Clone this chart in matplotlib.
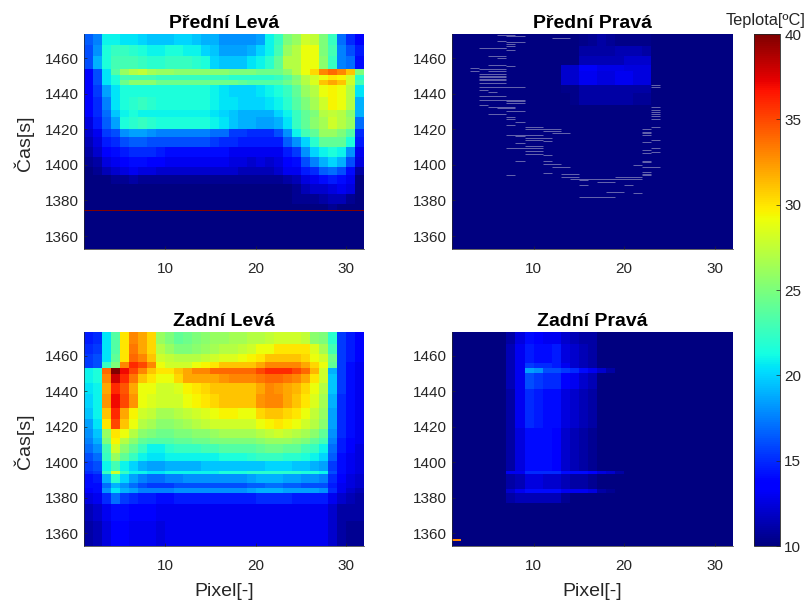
import numpy as np
import matplotlib
matplotlib.use("Agg")
import matplotlib.pyplot as plt

plt.rcParams['font.family'] = ['Liberation Sans', 'DejaVu Sans']

W, H = 808, 600
TITLES = ["Přední Levá", "Přední Pravá", "Zadní Levá", "Zadní Pravá"]
XTICKS = [10, 20, 30]
YTICKS = [1360, 1380, 1400, 1420, 1440, 1460]
CB_TICKS = [10, 15, 20, 25, 30, 35, 40]
PIXEL_EDGES = np.arange(1, 33)

# ---- Přední Levá
PL_T = [1473.5, 1467.5, 1460.9, 1453.7, 1450.5, 1447.7, 1444.9, 1438.3, 1430.8, 1426.6, 1420.4,
        1415.7, 1410.0, 1404.4, 1398.7, 1394.0, 1389.3, 1383.7, 1378.0, 1374.6, 1374.1, 1352.7]
PL = [
 [16.5,17.5,21,21,20.5,20.5,20,19.5,19.5,19.5,20,20,19.5,19,19,18,18,18,18,18.5,21,22.5,25,26,28,27.5,25,22.5,17,15,13.5],
 [16,18,21.5,22.5,22.5,22,21.5,21,21,21.5,21.5,21,21,20,19.5,18.5,18.5,18.5,19,20,21,23,26,27,29,29,25,23,17.5,16,14.5],
 [16,19,21.5,23,23,23,22.5,22,22,22.5,22.5,22.5,22,21.5,20,19.5,19.5,19.5,20.5,21,22,24,27,27,29,29,25.5,22.5,17.5,17,14],
 [13.5,16,20.5,23.5,26,27,27.5,26.5,26,26,25.5,25.5,25.5,25.5,25.5,25.5,25,25,25,24.5,24.5,24.5,25.5,27,29,30.5,33,34,33,31,25],
 [13.5,16,20.5,21.5,23,23,23,23,22.5,22.5,22.5,22.5,22.5,22.5,22.5,22.5,22,22,22,22,22,22.5,23.5,25,27,28,29,30,29.5,28,22],
 [13.5,16,20.5,21.5,24.5,25.5,25.5,25.5,24.5,24.5,24.5,24.5,24.5,24.5,24.5,24.5,24.5,24,23.5,23.5,23.5,23.5,24.5,25.5,27,28.5,31,32,31,28,23],
 [13.5,15.5,18.5,20.5,21.5,21.5,21.5,21.5,21.5,21.5,21.5,21.5,21.5,21.5,21,20.5,20,20,20,20.5,21,21.5,22.5,24,26,27,29,29.5,29,27,20.5],
 [13.5,15,17.5,20.5,21.5,22,22.5,22,21.5,21.5,21.5,21.5,21.5,21.5,21,20.5,20.5,20,20,20,20.5,21,22,23.5,25,26.5,28,29.5,29,27,19],
 [13.5,15,17,19.5,21,21.5,21,21,21,21,21,21,21,21,20.5,20,19.5,19,19,19,19,20,21,22.5,24,25,27,27.5,27,25.5,19],
 [12.5,14.5,16.5,18.5,21.5,22,22.5,22,21.5,21.5,21.5,21.5,21.5,21.5,21,20.5,19.5,19,19,18.5,18.5,19,20.5,22.5,24,25.5,26.5,28,27,26,17],
 [12,13,15.5,16,18,18.5,18.5,18,17.5,17.5,17.5,17.5,17.5,17.5,17,17,15.5,15.5,15,15,15,16,18,21,23,24,26,26,25,23.5,15],
 [11.5,12.5,14.5,15,16,16.5,16.5,16,16,16,16,16,16,16,15.5,15,15,14.5,14.5,14.5,14.5,14.5,16.5,18,20,22,24,24,24,21.5,14.5],
 [11,12,13.5,14,14.5,15,15,15,14.5,14,14,14,14,14,14,14,13,13,13,13,13,13,14.5,15.5,18,20,21,21.5,21,18,13],
 [10.5,11,12.5,13,13.5,14,14,13.5,13.5,13,13,13,13,13,13,13,12.5,12.5,12,12.5,12,12.5,13.5,14,16,17.5,19,20,19,16,12.5],
 [10,10.5,11.5,12,12.5,13,12.5,12.5,12,12,12,12,12,12,12,12,12,11.5,11.5,11.5,11.5,12,13,13,14.5,15,16.5,17,16,14,11],
 [10,10,10,10.5,10.5,11,10.5,10.5,10.5,10.5,10.5,10.5,10.5,10.5,10.5,10.5,10.5,10.5,10.5,10.5,10.5,10.5,11,11.5,12.5,13,14,14.5,14,13,10],
 [10,10,10,10,10,10,10,10,10,10,10,10,10,10,10,10,10,10,10,10,10,10,10,10.5,11.5,12,12,12.5,13,12.5,10],
 [10,10,10,10,10,10,10,10,10,10,10,10,10,10,10,10,10,10,10,10,10,10,10,10.5,10.5,10.5,11,11.5,11.5,10.5,10],
 [10,10,10,10,10,10,10,10,10,10,10,10,10,10,10,10,10,10,10,10,10,10,10,10,10,10,10,10.5,10,10,10],
 [40,40,40,40,40,40,40,40,40,40,40,40,40,40,40,40,40,40,40,40,40,40,40,40,40,40,40,40,40,40,40],
 [10,10,10,10,10,10,10,10,10,10,10,10,10,10,10,10,10,10,10,10,10,10,10,10,10,10,10,10,10,10,10],
]

# ---- Zadní Levá
ZL_T = [1473.5, 1466.5, 1460.9, 1456.7, 1453.3, 1449.6, 1444.9, 1438.3, 1430.8, 1424.2, 1418.5, 1413.8,
        1410.0, 1405.3, 1400.6, 1395.3, 1393.4, 1388.4, 1385.2, 1382.4, 1376.2, 1366.8, 1352.7]
ZL = [
 [14.5,15,20.5,23.5,30,33,32,30.5,26,25,24,24.5,25,25.5,26,26,26.5,26.5,27,27,27.5,28,28,28,27.5,25.5,25,22,15.5,14.5,13.5],
 [15,15.5,20.5,23.5,30,33.5,32,30.5,27,26,25,25,25.5,26,26.5,27,27,27.5,28,29,29,30,30,30,30,28.5,26.5,23,15.5,14.5,13.5],
 [15.5,16,20.5,24,30,34,33,31,28,27.5,27,27,27,27.5,28,28.5,28.5,29,29.5,30,31,31,31,31,30.5,29,28,24.5,15.5,14.5,13.5],
 [15.5,16,22.5,25,33,36,35,33,29,28,28,28,29,29.5,30,31,31,31,31,32,33,33,33,33,32,30.5,29,24,15.5,14,13],
 [21,21.5,34,40,37,35,33,31,30,30,31,32,33,33,34,34,34,34,34,35,36,36,36,35,34,31.5,28,19,15.5,14,13],
 [21,21.5,33,38,36,33.5,31,30,29,29,30.5,32,32,32,32,32.5,33,33,33,33.5,34,34,33.5,33,32,30,28,19.5,15.5,14,13],
 [20.5,21,32,36,34.5,32,29,29,28,28,28.5,29.5,30,30.5,31,31,31,31,31,32,33,32.5,32,31.5,30.5,29,27,19.5,15.5,14,13],
 [20,21,32.5,37,35,32.5,29,28.5,28,28,28,29,29.5,30,30.5,31,31,31,31,32.5,33,33,32,31,30,28.5,26.5,19,15,14,13],
 [19.5,21,31,36,32,29.5,28,27.5,26.5,26.5,27,27.5,28,28.5,29,29.5,29.5,29,29,30.5,31,31,30.5,30,29,27.5,26,18.5,15,14,13],
 [18.5,20.5,30,35,31,29,27,26.5,25.5,25.5,26,26.5,27,27.5,28,28,28,28,28,29,29.5,30,29.5,29,28,27,25.5,18.5,15,14,13],
 [18,19.5,26,30,29,27,25.5,25,24.5,24.5,25,25,25.5,25.5,26,26.5,26.5,26.5,26.5,27,27.5,28,27.5,27,26.5,25.5,24,18,15,14,13],
 [17.5,19,25,29.5,27,25.5,24,23.5,23.5,23.5,24,24,24.5,24.5,25,25,25,25,25,25.5,26,26,26,25.5,25,24,23,17.5,14.5,13.5,13],
 [17,18,23,28,25.5,24,22.5,21,21,22,22.5,22.5,22.5,23,23,23.5,23.5,23.5,23.5,24,24.5,24.5,24,24,23,22.5,21,17,14.5,13.5,12.5],
 [16,17,22.5,26,24,22.5,21,20.5,20.5,21,21,21,21,21,21,21.5,21.5,21.5,22,22.5,22.5,22.5,22,22,21.5,21,20,16.5,14,13,12.5],
 [15.5,16,21,23,21,20,19,18.5,18.5,19,19,19,19,19.5,19.5,19.5,19.5,19.5,19.5,19.5,20,20,20,19.5,19.5,19,18.5,15.5,14,13,12.5],
 [15,15.5,22.5,28,22.5,21,21,20.5,20.5,21,21,21,21,21,21,21.5,21.5,21.5,22,22,22,22,22,22,21.5,21.5,21,16,14,13,12.5],
 [14,14.5,19,22,20,18.5,17.5,17,17,17.5,17.5,18,18,18,18,18,18,18,18.5,19,19,19,18.5,18.5,18,18,17.5,15,13.5,12.5,12],
 [14,14,17,19,18,17,16,15.5,15.5,15.5,16,16,16,16,16,16,16,16,16.5,16.5,17,17,16.5,16.5,16,16,16,14.5,13,12.5,12],
 [13.5,14,18,20.5,19,18.5,17.5,17.5,17.5,17.5,18,18,18,18,18,18,18,18,18.5,19,19,19,18.5,18.5,18.5,18.5,18,15,13,12,11.5],
 [12.5,13,15,17,15.5,15,14.5,14.5,14,14,14.5,14.5,14.5,14.5,14.5,14.5,14.5,14.5,14.5,15,15,15,15,14.5,14.5,14.5,14.5,13,12,11.5,11],
 [11.5,12,13,14,14,13.5,13.5,13.5,13,13,13,13,13,13,13,13,13,13,13,13,13,13,13,13,13,13,13,12,11,11,11],
 [11,11.5,12.5,13.5,13.5,13,13,13,12.5,13,13,13,13,13,13,13,13,13,13,13,13,13,13,13,13,13,13,12,11,10.5,10.5],
]

# ---- Přední Pravá
PP_T = [1473.5, 1466.5, 1460.9, 1456.2, 1452.5, 1444.9, 1440.2, 1433.6, 1352.7]
PP = [
 [10,10,10,10,10,10,10,10,10,10,10,10,10,10,10.3,10.5,11,10.7,10.3,10.3,10.3,10.3,10,10,10,10,10,10,10,10,10],
 [10,10,10,10,10,10,10,10,10,10,10,10,10,10,11,11,11,11,11.3,11.3,11.3,11,10,10,10,10,10,10,10,10,10],
 [10,10,10,10,10,10,10,10,10,10,10,10,10,10,11.5,11.5,11.5,11.5,11.5,12,12,12,10,10,10,10,10,10,10,10,10],
 [10,10,10,10,10,10,10,10,10,10,10,10,12,12,13.2,13.2,12.8,12.8,12.8,12.5,12.5,12.5,10,10,10,10,10,10,10,10,10],
 [10,10,10,10,10,10,10,10,10,10,10,10,12,12,13,13,12.5,12.5,13,13,12.5,12.5,10,10,10,10,10,10,10,10,10],
 [10,10,10,10,10,10,10,10,10,10,10,10,10.3,10.3,11,11,11,11,11,11,11,11,10,10,10,10,10,10,10,10,10],
 [10,10,10,10,10,10,10,10,10,10,10,10,10,10.3,11,11,11,11,11,11,10.7,10.7,10,10,10,10,10,10,10,10,10],
 [10,10,10,10,10,10,10,10,10,10,10,10,10,10,10,10,10,10,10,10,10,10,10,10,10,10,10,10,10,10,10],
]
# thin pale streaks: time, first pixel, last pixel
STREAK_T = [1472.9,1472.2,1471.2,1469.5,1468.8,1468.0,1466.9,1465.6,1465.4,1464.3,1461.3,1460.0,1456.2,1455.3,
            1453.9,1454.4,1452.9,1452.6,1450.9,1450.0,1449.1,1448.4,1447.5,1446.0,1443.6,1442.2,1440.8,1438.4,
            1436.5,1435.6,1434.7,1433.6,1432.3,1431.8,1430.1,1428.6,1427.1,1425.8,1424.3,1422.6,1421.0,1420.1,
            1419.1,1417.6,1416.7,1416.3,1414.8,1413.9,1413.6,1412.4,1410.7,1409.2,1407.7,1406.2,1405.3,1401.9,
            1401.9,1400.2,1398.7,1394.9,1394.5,1395.3,1393.0,1392.2,1391.7,1390.4,1388.7,1388.9,1384.5,1384.3,1382.1,
            1444.6,1443.7,1432.6,1431.0,1429.8,1428.7,1427.2,1425.5,1421.3,1420.0,1418.5,1417.6,1416.7,1414.0,1413.0,
            1409.4,1408.2,1407.4,1406.8,1402.3,1401.4,1399.9,1398.5,1395.9,1394.9,1394.0,1393.2]
STREAK_A = [6,7,12,6,7,7,7,4,6,7,5,6,5,7,4,3,3,5,4,4,4,4,4,4,4,4,5,4,4,7,7,4,5,6,7,5,7,7,8,7,9,9,11,12,7,8,9,9,11,8,9,7,9,9,11,
            11,8,11,12,13,7,11,13,14,15,17,15,20,18,21,15,
            23,23,23,23,23,23,23,23,23,22,22,22,22,23,22,23,22,23,22,22,22,21,22,22,22,22,19]
STREAK_B = [8,9,14,7,9,8,8,7,7,8,7,7,7,8,7,4,4,7,7,7,7,7,7,7,9,5,6,7,9,9,9,5,8,8,9,7,8,8,9,8,11,13,13,14,11,9,12,11,12,9,11,11,11,11,12,
            12,9,13,14,15,8,12,15,22,16,19,16,21,20,22,19,
            24,24,24,24,24,24,24,24,24,23,23,23,23,24,23,24,23,24,23,23,23,22,24,23,23,23,22]

# ---- Zadní Pravá
ZP_T = [1473.5, 1466.5, 1456.2, 1453.3, 1450.5, 1441.1, 1419.5, 1395.0, 1393.6, 1384.6, 1382.4, 1377.1, 1356.6, 1355.6, 1352.7]
ZP = [
 [10,10,10,10,10,10,11,12.5,14,13.5,13,13,12,11.5,11,11,10,10,10,10,10,10,10,10,10,10,10,10,10,10,10],
 [10,10,10,10,10,10,11.5,13,14.5,14,14,14.5,12.5,12,11.5,11,10,10,10,10,10,10,10,10,10,10,10,10,10,10,10],
 [10,10,10,10,10,10,11.5,13,15.5,15,15,14.5,13,12,11.5,11,10,10,10,10,10,10,10,10,10,10,10,10,10,10,10],
 [10,10,10,10,10,10,11.5,13,18.5,18,16,16,15.5,15,14,13,12,11,10,10,10,10,10,10,10,10,10,10,10,10,10],
 [10,10,10,10,10,10,11.5,13,16,15.5,15,15,13.5,13,12,11.5,10,10,10,10,10,10,10,10,10,10,10,10,10,10,10],
 [10,10,10,10,10,10,11,13,15,14.5,14,14,12.5,12,11.5,11,10,10,10,10,10,10,10,10,10,10,10,10,10,10,10],
 [10,10,10,10,10,10,11,12.5,14,14,14,13.5,12,11.5,11,10.5,10,10,10,10,10,10,10,10,10,10,10,10,10,10,10],
 [10,10,10,10,10,10,13,13,15,15,15,15,14,14,14,13.5,12.5,12,11,10,10,10,10,10,10,10,10,10,10,10,10],
 [10,10,10,10,10,10,11,11.5,12.5,12.5,12,12,11.5,11,11,10.5,10,10,10,10,10,10,10,10,10,10,10,10,10,10,10],
 [10,10,10,10,10,10,12,13,14,14,14,14,13,13,13,12.5,11,10.5,10,10,10,10,10,10,10,10,10,10,10,10,10],
 [10,10,10,10,10,10,11,11.5,11.5,11.5,11.5,11.5,10.5,10,10,10,10,10,10,10,10,10,10,10,10,10,10,10,10,10,10],
 [10,10,10,10,10,10,10,10,10,10,10,10,10,10,10,10,10,10,10,10,10,10,10,10,10,10,10,10,10,10,10],
 [33,10,10,10,10,10,10,10,10,10,10,10,10,10,10,10,10,10,10,10,10,10,10,10,10,10,10,10,10,10,10],
 [10,10,10,10,10,10,10,10,10,10,10,10,10,10,10,10,10,10,10,10,10,10,10,10,10,10,10,10,10,10,10],
]

fig = plt.figure(figsize=(W / 100, H / 100), dpi=100)

def axes_px(l, t, r, b):
    return fig.add_axes([l / W, 1 - b / H, (r - l) / W, (b - t) / H])

DARK = '#262626'
boxes = [(84, 34, 364, 249), (452, 34, 733, 249), (84, 332, 364, 546), (452, 332, 733, 546)]
data = [(PL_T, PL), (PP_T, PP), (ZL_T, ZL), (ZP_T, ZP)]
mesh = None
for i, (box, (T, Z)) in enumerate(zip(boxes, data)):
    ax = axes_px(*box)
    mesh = ax.pcolormesh(PIXEL_EDGES, T, np.array(Z), cmap='jet', vmin=10, vmax=40, shading='flat')
    if i == 1:
        ax.hlines(STREAK_T, STREAK_A, STREAK_B, colors='#6666ae', linewidth=0.7, zorder=3)
    ax.set_xlim(1, 32)
    ax.set_ylim(1352.7, 1473.5)
    ax.set_xticks(XTICKS)
    ax.set_yticks(YTICKS)
    ax.tick_params(direction='in', length=2.5, width=0.5, labelsize=11, color=DARK, labelcolor=DARK)
    ax.tick_params(axis='x', pad=9.5)
    ax.tick_params(axis='y', pad=4)
    ax.spines['top'].set_visible(False)
    ax.spines['right'].set_visible(False)
    for s in ('left', 'bottom'):
        ax.spines[s].set_linewidth(0.5)
        ax.spines[s].set_color(DARK)
    ax.set_title(TITLES[i], fontsize=14, fontweight='bold', color='black', pad=4)
    if i in (0, 2):
        ax.set_ylabel("Čas[s]", fontsize=14, color=DARK)
        ax.yaxis.set_label_coords(-0.179, 0.49)
    if i in (2, 3):
        ax.set_xlabel("Pixel[-]", fontsize=14, color=DARK)
        ax.xaxis.set_label_coords(0.5, -0.174)

cax = axes_px(754, 34, 780, 546)
cb = fig.colorbar(mesh, cax=cax)
cb.set_ticks(CB_TICKS)
cb.ax.tick_params(direction='in', length=3, width=0.5, labelsize=11, color=DARK, labelcolor=DARK, pad=3)
cb.outline.set_linewidth(0.6)
cb.outline.set_edgecolor(DARK)
fig.text(806 / W, 1 - 20 / H, "Teplota[ºC]", ha='right', va='center', fontsize=11.8, color=DARK)

fig.savefig("out.png", dpi=100)
